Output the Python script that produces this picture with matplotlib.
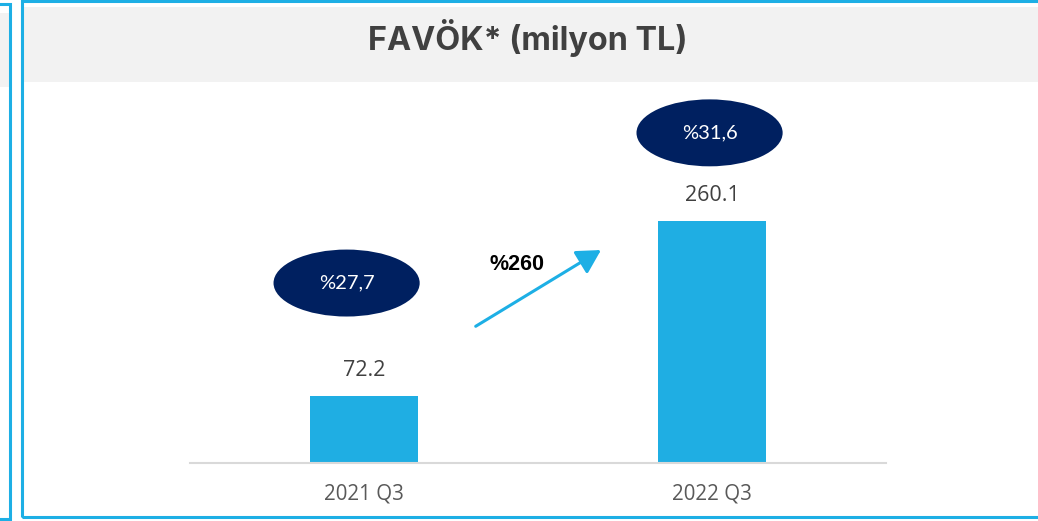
import matplotlib
matplotlib.use("Agg")
import matplotlib.pyplot as plt
from matplotlib.patches import Rectangle, Ellipse, FancyArrowPatch

# ---- data ----
categories = ["2021 Q3", "2022 Q3"]
values = [72.2, 260.1]
margins = ["%27,7", "%31,6"]
growth_label = "%260"
title = "FAVÖK* (milyon TL)"

W, H = 1038, 521
DPI = 100
fig = plt.figure(figsize=(W / DPI, H / DPI), dpi=DPI)
fig.patch.set_facecolor("white")

BLUE = "#1DAFE5"
NAVY = "#002060"
BAR = "#1FAEE3"


def fx(x):
    return x / W


def fy(y):
    return 1 - y / H


def rect_px(x0, y0, x1, y1, **kw):
    r = Rectangle((fx(x0), fy(y1)), fx(x1) - fx(x0), fy(y0) - fy(y1),
                  transform=fig.transFigure, **kw)
    fig.add_artist(r)
    return r


# left (partial) panel
rect_px(-5, 13, 8.5, 87, facecolor="#F2F2F2", edgecolor="none", zorder=1)
rect_px(-20, 3.5, 10, 519, facecolor="none", edgecolor=BLUE, linewidth=2.2, zorder=2)

# main panel
rect_px(23, 7, 1045, 82, facecolor="#F2F2F2", edgecolor="none", zorder=1)
rect_px(21.5, 1, 1060, 517, facecolor="none", edgecolor=BLUE, linewidth=2.2, zorder=2)

fig.text(fx(527.5), fy(50), title, ha="center", va="baseline",
         fontsize=23.3, fontweight="bold", family="Inter", color="#404040", zorder=3)

# axes
ax_left, ax_right, ax_bottom, ax_top = 190, 886, 463, 90
ax = fig.add_axes([fx(ax_left), fy(ax_bottom), fx(ax_right - ax_left), (ax_bottom - ax_top) / H])
ax.set_facecolor("none")
px_per_unit = 0.93
ax.set_xlim(-0.5, 1.5)
ax.set_ylim(0, (ax_bottom - ax_top) / px_per_unit)

x = list(range(len(categories)))
ax.bar(x, values, width=0.31, color=BAR, zorder=2)

for xi, v in zip(x, values):
    ax.text(xi, v + 27, f"{v:.1f}", ha="center", va="center",
            fontsize=15.5, family="Open Sans", color="#404040")

ax.set_xticks(x)
ax.set_xticklabels(categories, fontsize=14.8, family="Open Sans", color="#595959")
ax.tick_params(axis="x", length=0, pad=15)
ax.set_yticks([])
for s in ["top", "right", "left"]:
    ax.spines[s].set_visible(False)
ax.spines["bottom"].set_color("#D9D9D9")
ax.spines["bottom"].set_linewidth(1.5)

# margin ellipses
ell_pos = [(-0.05, 193.5), (0.993, 355)]
for (ex, ey), lab in zip(ell_pos, margins):
    ax.add_patch(Ellipse((ex, ey), width=0.42, height=72, facecolor=NAVY,
                         edgecolor="none", zorder=3))
    ax.text(ex, ey, lab, ha="center", va="center", fontsize=14.5,
            family="Lato", color="white", zorder=4)

# growth arrow
arr = FancyArrowPatch((0.321, 147), (0.681, 229), arrowstyle="-|>,head_length=9,head_width=5",
                      mutation_scale=1.6, color=BLUE, linewidth=2.2, zorder=3,
                      shrinkA=0, shrinkB=0)
ax.add_patch(arr)
ax.text(0.441, 213, growth_label, ha="center", va="center", fontsize=15.5,
        fontweight="bold", family="Liberation Sans", color="black")

fig.savefig("out.png", dpi=DPI)
